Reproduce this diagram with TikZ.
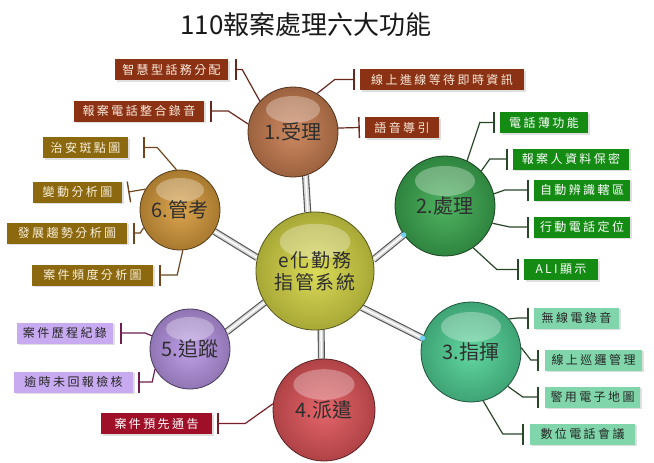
\documentclass[tikz,border=0pt]{standalone}
\usepackage{fontspec}
\setmainfont{Noto Sans CJK TC}
\newfontfamily\lblfont[LetterSpace=20]{Noto Sans CJK TC}
\newfontfamily\ctrfont[LetterSpace=10]{Noto Sans CJK TC}
\usetikzlibrary{arrows.meta,shadows}
\pgfdeclarelayer{bg}
\pgfsetlayers{bg,main}
\definecolor{g1}{RGB}{140,50,20}
\definecolor{g2}{RGB}{20,140,20}
\definecolor{g3}{RGB}{128,214,170}
\definecolor{g4}{RGB}{160,15,40}
\definecolor{g5}{RGB}{200,170,240}
\definecolor{g6}{RGB}{140,105,15}
\definecolor{l1}{RGB}{105,40,30}
\definecolor{l2}{RGB}{40,70,40}
\definecolor{l4}{RGB}{120,30,40}
\definecolor{l5}{RGB}{110,30,80}
\definecolor{l6}{RGB}{110,70,30}
\definecolor{sc1}{RGB}{200,125,80}
\definecolor{sc2}{RGB}{60,170,80}
\definecolor{sc3}{RGB}{80,210,150}
\definecolor{sc4}{RGB}{225,85,90}
\definecolor{sc5}{RGB}{185,150,230}
\definecolor{sc6}{RGB}{215,155,60}
\definecolor{scc}{RGB}{215,215,70}
\begin{document}
\begin{tikzpicture}[x=1pt,y=-1pt,
  sph/.style n args={2}{circle, inner sep=0pt, minimum size=#2 pt, shading=radial, inner color=#1!90!white, outer color=#1!78!black,
    draw=#1!40!black, line width=0.8pt,
    path picture={\fill[white, fill opacity=0.3] ([yshift=-#2*0.25pt]path picture bounding box.north) ellipse [x radius=#2*0.3pt, y radius=#2*0.15pt];},
    text=black!82, font=\fontsize{20}{24}\selectfont},
  lbl/.style={inner sep=0pt, minimum height=21pt, font=\lblfont\fontsize{12}{14}\selectfont,
    drop shadow={shadow xshift=1.5pt, shadow yshift=-1.5pt, opacity=0.25}},
  lb1/.style={lbl, fill=g1, text={rgb,255:red,250;green,235;blue,220}},
  lb2/.style={lbl, fill=g2, text=white},
  lb3/.style={lbl, fill=g3, text=black!85},
  lb4/.style={lbl, fill=g4, text=white},
  lb5/.style={lbl, fill=g5, text=black!85},
  lb6/.style={lbl, fill=g6, text={rgb,255:red,250;green,240;blue,220}},
  conn/.style={line width=1.2pt, draw=#1, -{Bar[width=21pt,line width=1.4pt]}},
  rodo/.style={line width=7pt, draw=gray!65!black},
  rodi/.style={line width=4.8pt, draw=gray!30},
  rodh/.style={line width=1.5pt, draw=white}
]
\useasboundingbox (0,0) rectangle (654,463);

\node[font=\fontsize{26}{30}\selectfont, text=black!90] (title) at (306,25) {110報案處理六大功能};

% spheres
\node[sph={scc}{118}, font=\ctrfont\fontsize{19}{23}\selectfont, align=center] (c) at (315,271) {e化勤務\\[-1pt]指管系統};
\node[sph={sc1}{90}] (s1) at (293,132) {1.受理};
\node[sph={sc2}{100}] (s2) at (445,206) {2.處理};
\node[sph={sc3}{100}] (s3) at (471,352) {3.指揮};
\node[sph={sc4}{102}] (s4) at (324,410) {4.派遣};
\node[sph={sc5}{80}] (s5) at (190,349) {5.追蹤};
\node[sph={sc6}{80}] (s6) at (180,210) {6.管考};

% background and rods
\begin{pgfonlayer}{bg}
\fill[white] (0,0) rectangle (654,463);
\foreach \a/\b in {c.97/s1.-74, c.167/s6.-32, c.11/s2.215, c.-38/s3.164, c.-84/s4.93, c.212/s5.25}{
  \draw[rodo] (\a) -- (\b);
  \draw[rodi] (\a) -- (\b);
  \draw[rodh] (\a) -- (\b);
}
\end{pgfonlayer}
\fill[cyan!55!white] (s2.215) circle (2.6pt);
\fill[cyan!55!white] (s3.164) circle (2.6pt);

% group 1
\node[lb1, minimum width=113pt] (b11) at (171.5,69.5) {智慧型話務分配};
\node[lb1, minimum width=164pt] (b12) at (442,79.5) {線上進線等待即時資訊};
\node[lb1, minimum width=130pt] (b13) at (139,111) {報案電話整合錄音};
\node[lb1, minimum width=74pt] (b14) at (402,127.5) {語音導引};
\draw[conn=l1] (s1.137) -- ([xshift=14pt]b11.east) -- ([xshift=7pt]b11.east);
\draw[conn=l1] (s1.58) -- ([xshift=-25pt]b12.west) -- ([xshift=-5pt]b12.west);
\draw[conn=l1] (s1.170) -- ([xshift=24pt]b13.east) -- ([xshift=6pt]b13.east);
\draw[conn=l1] (s1.5) -- ([xshift=-5pt]b14.west);

% group 2
\node[lb2, minimum width=88pt] (b21) at (544,122.5) {電話薄功能};
\node[lb2, minimum width=116pt] (b22) at (571,159) {報案人資料保密};
\node[lb2, minimum width=96pt] (b23) at (582,190) {自動辨識轄區};
\node[lb2, minimum width=96pt] (b24) at (582,227) {行動電話定位};
\node[lb2, minimum width=74pt] (b25) at (561,269.5) {ALI顯示};
\draw[conn=l2] (s2.64) -- ([xshift=-20pt]b21.west) -- ([xshift=-5pt]b21.west);
\draw[conn=l2] (s2.44) -- ([xshift=-23pt]b22.west) -- ([xshift=-5pt]b22.west);
\draw[conn=l2] (s2.14) -- ([xshift=-29pt]b23.west) -- ([xshift=-5pt]b23.west);
\draw[conn=l2] (s2.-20) -- ([xshift=-24pt]b24.west) -- ([xshift=-5pt]b24.west);
\draw[conn=l2] (s2.-56) -- ([xshift=-27pt]b25.west) -- ([xshift=-5pt]b25.west);

% group 3
\node[lb3, minimum width=85pt] (b31) at (576.5,318) {無線電錄音};
\node[lb3, minimum width=97pt] (b32) at (593.5,360) {線上巡邏管理};
\node[lb3, minimum width=95pt] (b33) at (592.5,397) {警用電子地圖};
\node[lb3, minimum width=105pt] (b34) at (582.5,434) {數位電話會議};
\draw[conn=l2] (s3.41) -- ([xshift=-16pt]b31.west) -- ([xshift=-5pt]b31.west);
\draw[conn=l2] (s3.5) -- ([xshift=-14pt]b32.west) -- ([xshift=-6pt]b32.west);
\draw[conn=l2] (s3.-43) -- ([xshift=-22pt]b33.west) -- ([xshift=-6pt]b33.west);
\draw[conn=l2] (s3.-76) -- ([xshift=-27pt]b34.west) -- ([xshift=-6pt]b34.west);

% group 4
\node[lb4, minimum width=111pt] (b41) at (156.5,423.5) {案件預先通告};
\draw[conn=l4] (s4.173) -- ([xshift=33pt]b41.east) -- ([xshift=5pt]b41.east);

% group 5
\node[lb5, minimum width=96pt] (b51) at (65,333) {案件歷程紀錄};
\node[lb5, minimum width=119pt] (b52) at (73.5,382) {逾時未回報檢核};
\draw[conn=l5] (s5.161) -- ([xshift=32pt]b51.east) -- ([xshift=7pt]b51.east);
\draw[conn=l5] (s5.210) -- ([xshift=19pt]b52.east) -- ([xshift=5pt]b52.east);

% group 6
\node[lb6, minimum width=85pt] (b61) at (85.5,147.5) {治安斑點圖};
\node[lb6, minimum width=89pt] (b62) at (77.5,192) {變動分析圖};
\node[lb6, minimum width=120pt] (b63) at (67,233) {發展趨勢分析圖};
\node[lb6, minimum width=121pt] (b64) at (92.5,275) {案件頻度分析圖};
\draw[conn=l6] (s6.95) -- ([xshift=29pt]b61.east) -- ([xshift=15pt]b61.east);
\draw[conn=l6] (s6.149) -- ([xshift=6pt]b62.east);
\draw[conn=l6] (s6.206) -- ([xshift=13pt]b63.east) -- ([xshift=6pt]b63.east);
\draw[conn=l6] (s6.-86) -- ([xshift=24pt]b64.east) -- ([xshift=6pt]b64.east);
\end{tikzpicture}
\end{document}
